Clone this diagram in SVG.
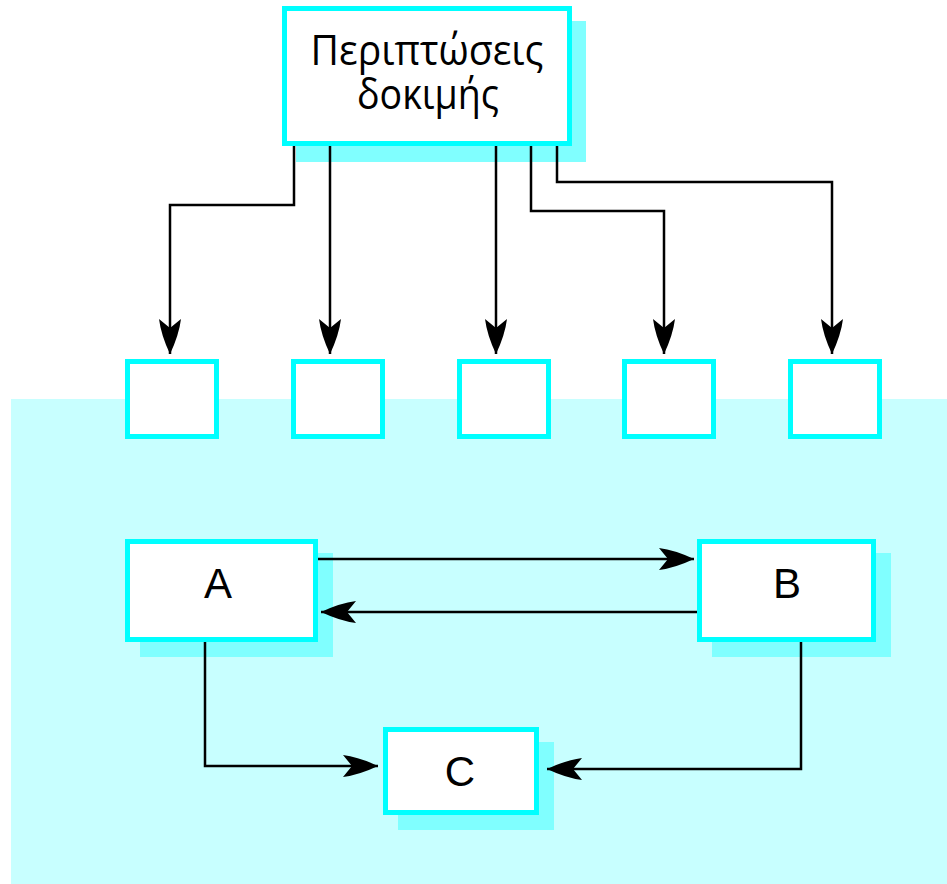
<svg xmlns="http://www.w3.org/2000/svg" width="947" height="884" viewBox="0 0 947 884">
<style>
.box{fill:#ffffff;stroke:#00ffff;stroke-width:5}
.shadow{fill:#80ffff}
.conn{fill:none;stroke:#000000;stroke-width:2.5;marker-end:url(#arr)}
.lbl{font-family:"Liberation Sans",Arial,sans-serif;font-size:42px;fill:#000;text-anchor:middle}
.title{font-family:"Open Sans","Noto Sans",sans-serif;font-size:42px;fill:#000;text-anchor:middle}
</style>
<defs>
<marker id="arr" markerUnits="userSpaceOnUse" markerWidth="36" markerHeight="24" viewBox="0 0 36 24" refX="35" refY="12" orient="auto">
<path d="M35,12 Q16,3 0,1 L9,12 L0,23 Q16,21 35,12 Z" fill="#000"/>
</marker>
</defs>
<rect x="0" y="0" width="947" height="884" fill="#ffffff"/>
<rect id="background" x="11" y="399" width="936" height="485" fill="#c8ffff"/>
<g id="test-cases">
<rect class="shadow" x="296" y="21" width="290" height="141"/>
<rect class="box" x="284.5" y="8.5" width="285" height="135"/>
<text class="title" x="427" y="65" textLength="233" lengthAdjust="spacingAndGlyphs">Περιπτώσεις</text>
<text class="title" x="428" y="109" textLength="142" lengthAdjust="spacingAndGlyphs">δοκιμής</text>
</g>
<g id="in1"><rect class="box" x="127.5" y="361.5" width="89" height="75"/></g>
<g id="in2"><rect class="box" x="293.5" y="361.5" width="89" height="75"/></g>
<g id="in3"><rect class="box" x="459.5" y="361.5" width="89" height="75"/></g>
<g id="in4"><rect class="box" x="624.5" y="361.5" width="89" height="75"/></g>
<g id="in5"><rect class="box" x="790.5" y="361.5" width="89" height="75"/></g>
<g id="A">
<rect class="shadow" x="140" y="553" width="193" height="104"/>
<rect class="box" x="127.5" y="541.5" width="188" height="98"/>
<text class="lbl" x="218" y="598">A</text>
</g>
<g id="B">
<rect class="shadow" x="712" y="553" width="179" height="104"/>
<rect class="box" x="699.5" y="541.5" width="174" height="98"/>
<text class="lbl" x="787" y="598">B</text>
</g>
<g id="C">
<rect class="shadow" x="398" y="742" width="156" height="88"/>
<rect class="box" x="385.5" y="729.5" width="151" height="83"/>
<text class="lbl" x="460" y="786">C</text>
</g>
<g id="connectors">
<path class="conn" d="M294,146 V205 H170 V354"/>
<path class="conn" d="M330,146 V354"/>
<path class="conn" d="M496,146 V354"/>
<path class="conn" d="M531,146 V211 H664 V354"/>
<path class="conn" d="M557,146 V182 H832 V354"/>
<path class="conn" d="M318,559 H694"/>
<path class="conn" d="M697,612 H321"/>
<path class="conn" d="M205,642 V766 H378"/>
<path class="conn" d="M801,642 V769 H547"/>
</g>
</svg>
